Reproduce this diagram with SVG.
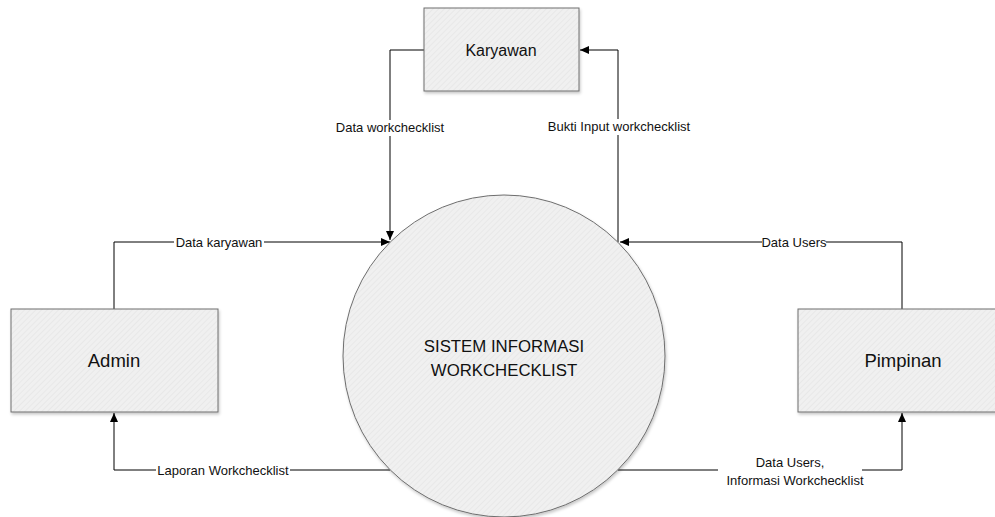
<svg xmlns="http://www.w3.org/2000/svg" width="995" height="517" viewBox="0 0 995 517">
<style>
.node{fill:url(#hatch);stroke:#6e6e6e;stroke-width:1;filter:url(#shadow)}
.ntext{font-family:"Liberation Sans",Arial,sans-serif;fill:#111;text-anchor:middle}
.conn{fill:none;stroke:#000;stroke-width:1}
.lbl{font-family:"Liberation Sans",Arial,sans-serif;font-size:13px;fill:#111;text-anchor:middle}
.bg{fill:#fff}
</style>
<defs>
<pattern id="hatch" width="4" height="4" patternUnits="userSpaceOnUse" patternTransform="rotate(45)">
<rect width="4" height="4" fill="#f0f0f0"/>
<rect width="1" height="4" fill="#e8e8e8"/>
</pattern>
<filter id="shadow" x="-10%" y="-10%" width="130%" height="130%">
<feDropShadow dx="1" dy="2" stdDeviation="1.5" flood-color="#000" flood-opacity="0.22"/>
</filter>
<marker id="arr" markerWidth="9" markerHeight="8" refX="9" refY="4" orient="auto" markerUnits="userSpaceOnUse">
<path d="M0,0 L9,4 L0,8 Z" fill="#000"/>
</marker>
</defs>
<rect width="995" height="517" fill="#fff"/>

<g id="connectors">
<path class="conn" d="M424,50 H390 V240" marker-end="url(#arr)"/>
<path class="conn" d="M618,242 V50 H580" marker-end="url(#arr)"/>
<path class="conn" d="M114,309 V242 H390" marker-end="url(#arr)"/>
<path class="conn" d="M902,309 V242 H620" marker-end="url(#arr)"/>
<path class="conn" d="M390,470 H114 V413" marker-end="url(#arr)"/>
<path class="conn" d="M618,470 H902 V413" marker-end="url(#arr)"/>
</g>

<g id="labels">
<rect class="bg" x="334" y="120" width="112" height="16"/>
<text class="lbl" x="390" y="132">Data workchecklist</text>
<rect class="bg" x="544" y="119" width="150" height="16"/>
<text class="lbl" x="619" y="131">Bukti Input workchecklist</text>
<rect class="bg" x="174" y="235" width="90" height="15"/>
<text class="lbl" x="219" y="247">Data karyawan</text>
<rect class="bg" x="762" y="235" width="64" height="15"/>
<text class="lbl" x="794" y="247">Data Users</text>
<rect class="bg" x="156" y="462" width="134" height="16"/>
<text class="lbl" x="223" y="475">Laporan Workchecklist</text>
<rect class="bg" x="718" y="455" width="144" height="34"/>
<text class="lbl" x="790" y="467">Data Users,</text>
<text class="lbl" x="795" y="485">Informasi Workchecklist</text>
</g>

<g id="karyawan">
<rect class="node" x="424" y="8" width="155" height="83"/>
<text class="ntext" x="501" y="56" font-size="16">Karyawan</text>
</g>

<g id="admin">
<rect class="node" x="11" y="309" width="207" height="103"/>
<text class="ntext" x="114" y="367" font-size="18.5">Admin</text>
</g>

<g id="pimpinan">
<rect class="node" x="798" y="309" width="208" height="103"/>
<text class="ntext" x="903" y="367" font-size="18.5">Pimpinan</text>
</g>

<g id="sistem">
<circle class="node" cx="504" cy="356" r="161"/>
<text class="ntext" x="504" y="352" font-size="16.8">SISTEM INFORMASI</text>
<text class="ntext" x="504" y="376" font-size="16.8">WORKCHECKLIST</text>
</g>
</svg>
